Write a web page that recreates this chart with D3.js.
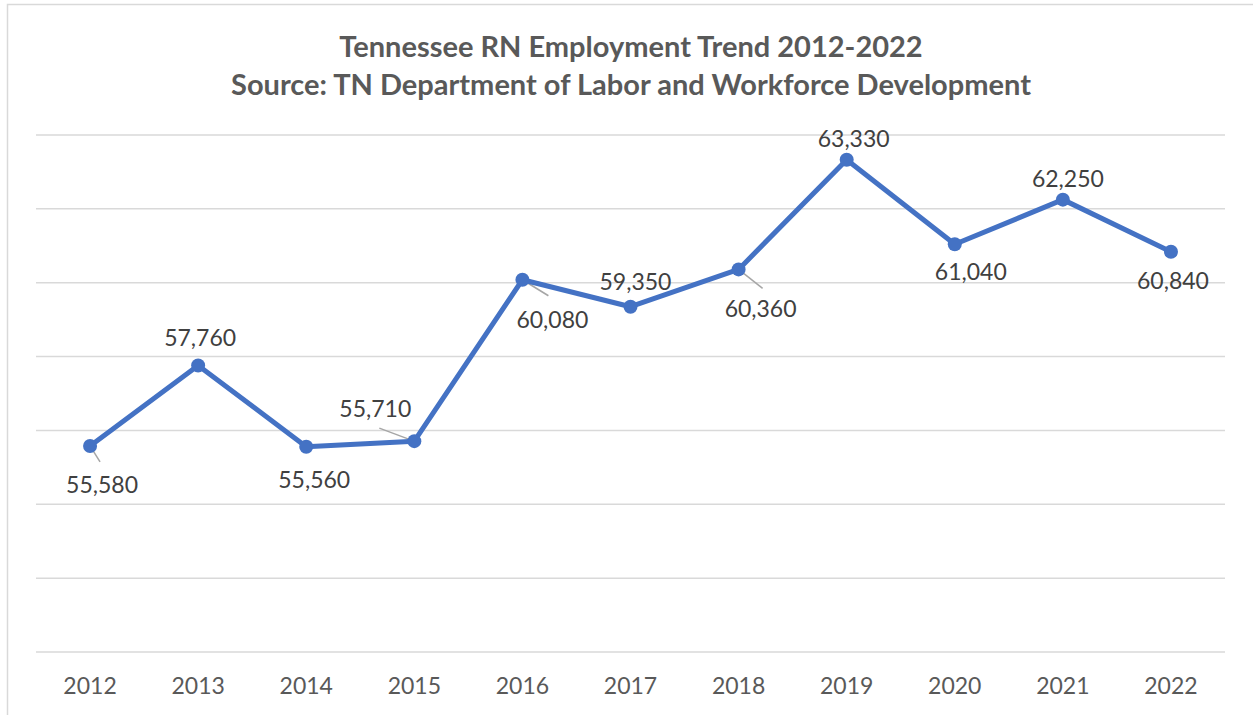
<!DOCTYPE html>
<html>
<head>
<meta charset="utf-8">
<script src="https://cdn.jsdelivr.net/npm/d3@7"></script>
<style>
  html, body { margin: 0; padding: 0; background: #fff; }
  svg { display: block; font-family: Lato, "Noto Sans", sans-serif; }
</style>
</head>
<body>
<svg id="chart" width="1253" height="715"></svg>
<script>
// Tennessee registered nurse employment, annual totals
const years = ["2012","2013","2014","2015","2016","2017","2018","2019","2020","2021","2022"];
const employment = [55580, 57760, 55560, 55710, 60080, 59350, 60360, 63330, 61040, 62250, 60840];
const yTicks = [50000, 52000, 54000, 56000, 58000, 60000, 62000, 64000];
const titleLines = ["Tennessee RN Employment Trend 2012-2022",
                    "Source: TN Department of Labor and Workforce Development"];

// label placement per point: dx/dy offset of text baseline-centre from the marker,
// and whether a leader line is drawn back to the marker
const labelPlacement = [
  { dx: 12, dy: 47, leader: [[0, 0], [10, 16]] },
  { dx: 2,  dy: -19 },
  { dx: 8,  dy: 41 },
  { dx: -39, dy: -24, leader: [[-35, -13], [-3, -1]] },
  { dx: 30, dy: 48, leader: [[0, 0], [26, 16]] },
  { dx: 5,  dy: -17 },
  { dx: 22, dy: 48, leader: [[0, 0], [24, 19]] },
  { dx: 7,  dy: -13 },
  { dx: 16, dy: 36 },
  { dx: 5,  dy: -13 },
  { dx: 2,  dy: 37 }
];

const svg = d3.select("#chart");
const plot = { left: 36, right: 1225, top: 135, bottom: 652 };

// outer chart frame
svg.append("rect")
  .attr("x", 7.5).attr("y", 4.5)
  .attr("width", 1270).attr("height", 730)
  .attr("fill", "#fff").attr("stroke", "#d9d9d9").attr("stroke-width", 1.5);

const x = d3.scaleBand().domain(years).range([plot.left, plot.right]);
const y = d3.scaleLinear().domain([50000, 64000]).range([plot.bottom, plot.top]);
const cx = d => x(d) + x.bandwidth() / 2;

// title
svg.append("g").selectAll("text").data(titleLines).join("text")
  .attr("x", 631).attr("y", (d, i) => 57 + i * 38)
  .attr("text-anchor", "middle")
  .attr("font-weight", "bold").attr("font-size", 29)
  .attr("fill", "#595959")
  .text(d => d);

// horizontal gridlines
svg.append("g").selectAll("line").data(yTicks).join("line")
  .attr("x1", plot.left).attr("x2", plot.right)
  .attr("y1", d => y(d)).attr("y2", d => y(d))
  .attr("stroke", "#d9d9d9").attr("stroke-width", 1.5);

// category axis labels
const xAxis = d3.axisBottom(x).tickSize(0).tickPadding(0);
const gx = svg.append("g").attr("transform", `translate(0,${plot.bottom})`).call(xAxis);
gx.select(".domain").remove();
gx.selectAll("text")
  .attr("dy", 0).attr("y", 42)
  .attr("font-family", "Lato, 'Noto Sans', sans-serif")
  .attr("font-size", 23).attr("fill", "#595959");

const points = years.map((yr, i) => ({ year: yr, value: employment[i], place: labelPlacement[i] }));

// leader lines
svg.append("g").selectAll("line")
  .data(points.filter(p => p.place.leader)).join("line")
  .attr("x1", p => cx(p.year) + p.place.leader[0][0])
  .attr("y1", p => y(p.value) + p.place.leader[0][1])
  .attr("x2", p => cx(p.year) + p.place.leader[1][0])
  .attr("y2", p => y(p.value) + p.place.leader[1][1])
  .attr("stroke", "#a6a6a6").attr("stroke-width", 1.5);

// series line
svg.append("path").datum(points)
  .attr("fill", "none").attr("stroke", "#4472C4").attr("stroke-width", 5)
  .attr("stroke-linejoin", "round")
  .attr("d", d3.line().x(p => cx(p.year)).y(p => y(p.value)));

// markers
svg.append("g").selectAll("circle").data(points).join("circle")
  .attr("cx", p => cx(p.year)).attr("cy", p => y(p.value))
  .attr("r", 7).attr("fill", "#4472C4");

// data labels
const fmt = d3.format(",");
svg.append("g").selectAll("text").data(points).join("text")
  .attr("x", p => cx(p.year) + p.place.dx)
  .attr("y", p => y(p.value) + p.place.dy)
  .attr("text-anchor", "middle")
  .attr("font-size", 23).attr("fill", "#404040")
  .text(p => fmt(p.value));
</script>
</body>
</html>
